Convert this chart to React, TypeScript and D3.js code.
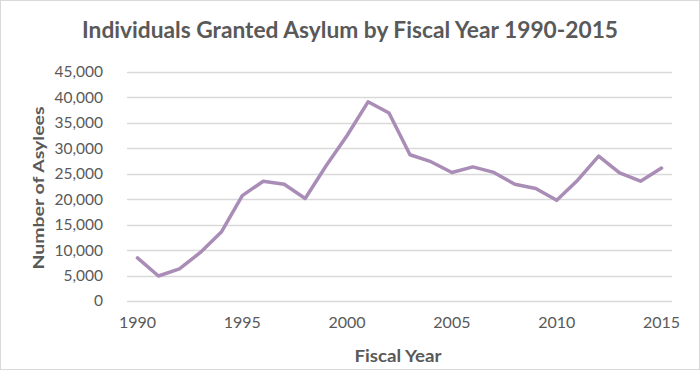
import { useRef, useEffect } from "react";
import * as d3 from "d3";

const years: number[] = d3.range(1990, 2016);
const asylees: number[] = [
    8472, 4913, 6307, 9543, 13556, 20703, 23532, 22939, 20145, 26571,
    32524, 39142, 36937, 28743, 27372, 25257, 26352, 25270, 22930, 22119,
    19778, 23741, 28472, 25199, 23533, 26124,
];
const yTicks: number[] = d3.range(0, 45001, 5000);
const xTickYears: number[] = [1990, 1995, 2000, 2005, 2010, 2015];

const titleText = "Individuals Granted Asylum by Fiscal Year 1990-2015";
const xTitle = "Fiscal Year";
const yTitle = "Number of Asylees";

const W = 700;
const H = 370;
const textColor = "#595959";
const lineColor = "#a98db6";
const gridColor = "#d9d9d9";
const font = "Lato, 'Open Sans', sans-serif";

export default function App() {
    const svgRef = useRef<SVGSVGElement | null>(null);

    useEffect(() => {
        if (!svgRef.current) return;
        const svg = d3.select(svgRef.current);
        svg.selectAll("*").remove();

        const margin = { top: 72, right: 28, bottom: 69, left: 127 };
        const width = W - margin.left - margin.right;
        const height = H - margin.top - margin.bottom;

        // category axis: points sit in the middle of each band
        const xScale = d3.scaleBand<number>().domain(years).range([0, width]);
        const yScale = d3.scaleLinear().domain([0, 45000]).range([height, 0]);

        svg.append("rect")
            .attr("x", 0.5).attr("y", 0.5)
            .attr("width", W - 1).attr("height", H - 1)
            .attr("fill", "#fff")
            .attr("stroke", "#d9d9d9");

        const g = svg.append("g")
            .attr("transform", `translate(${margin.left},${margin.top})`);

        // gridlines
        g.append("g")
            .selectAll("line")
            .data(yTicks)
            .join("line")
            .attr("x1", 0).attr("x2", width)
            .attr("y1", (d) => Math.round(yScale(d)) + 0.5)
            .attr("y2", (d) => Math.round(yScale(d)) + 0.5)
            .attr("stroke", gridColor)
            .attr("stroke-width", 1.5);

        // left axis labels
        const yAxis = d3.axisLeft(yScale)
            .tickValues(yTicks)
            .tickSize(0)
            .tickPadding(24)
            .tickFormat((d: any) => d3.format(",")(d));
        const yAxisG = g.append("g").attr("class", "y-axis").call(yAxis);
        yAxisG.select(".domain").remove();
        yAxisG.selectAll("text")
            .attr("fill", textColor)
            .style("font-family", font)
            .style("font-size", "15.5px");

        // bottom axis labels
        const xAxis = d3.axisBottom(xScale)
            .tickValues(xTickYears)
            .tickSize(0)
            .tickPadding(16);
        const xAxisG = g.append("g")
            .attr("class", "x-axis")
            .attr("transform", `translate(0,${height})`)
            .call(xAxis);
        xAxisG.select(".domain").remove();
        xAxisG.selectAll("text")
            .attr("fill", textColor)
            .style("font-family", font)
            .style("font-size", "16px");

        // the line
        const line = d3.line<number>()
            .x((_d, i) => (xScale(years[i]) as number) + xScale.bandwidth() / 2)
            .y((d) => yScale(d));

        g.append("path")
            .datum(asylees)
            .attr("d", line)
            .attr("fill", "none")
            .attr("stroke", lineColor)
            .attr("stroke-width", 3.5)
            .attr("stroke-linejoin", "round")
            .attr("stroke-linecap", "round");

        // titles
        svg.append("text")
            .attr("x", W / 2)
            .attr("y", 38)
            .attr("text-anchor", "middle")
            .attr("fill", textColor)
            .attr("textLength", 536)
            .attr("lengthAdjust", "spacingAndGlyphs")
            .style("font-family", font)
            .style("font-weight", "bold")
            .style("font-size", "22px")
            .text(titleText);

        svg.append("text")
            .attr("x", 398)
            .attr("y", 362)
            .attr("text-anchor", "middle")
            .attr("fill", textColor)
            .attr("textLength", 87)
            .attr("lengthAdjust", "spacingAndGlyphs")
            .style("font-family", font)
            .style("font-weight", "bold")
            .style("font-size", "17px")
            .text(xTitle);

        svg.append("text")
            .attr("transform", `translate(44,188) rotate(-90)`)
            .attr("text-anchor", "middle")
            .attr("fill", textColor)
            .attr("textLength", 163)
            .attr("lengthAdjust", "spacingAndGlyphs")
            .style("font-family", font)
            .style("font-weight", "bold")
            .style("font-size", "16px")
            .text(yTitle);
    }, []);

    return (
        <div style={{ position: "absolute", left: 0, top: 0 }}>
            <svg ref={svgRef} width={W} height={H} style={{ display: "block" }}></svg>
        </div>
    );
}
